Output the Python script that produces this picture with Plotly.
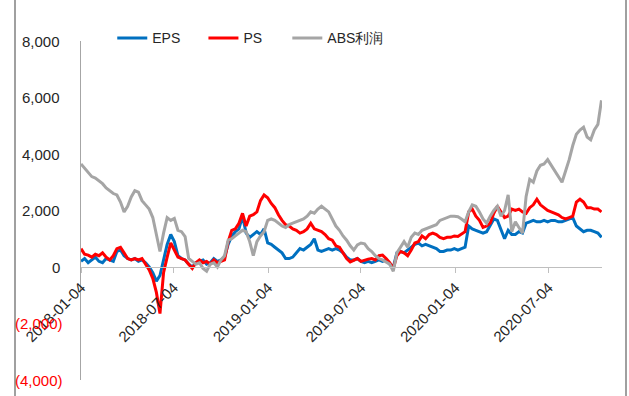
import pandas as pd
import plotly.graph_objects as go

# Weekly observations starting 2018-01-04
dates = pd.date_range("2018-01-04", periods=146, freq="7D")

eps = [
    200, 300, 150, 250, 350, 200, 150, 300, 250, 200,
    550, 600, 400, 300, 250, 300, 200, 250, 150, 0,
    -200, -500, -300, 300, 800, 1150, 900, 400, 300, 250,
    100, 0, 150, 200, 250, 100, 150, 300, 200, 250,
    350, 800, 1100, 1250, 1350, 1800, 1200, 1050, 1150, 1250,
    1150, 1350, 850, 800, 700, 600, 500, 300, 300, 350,
    500, 650, 600, 700, 800, 1000, 600, 550, 600, 650,
    600, 650, 600, 500, 350, 250, 250, 300, 200, 150,
    200, 150, 200, 250, 200, 250, 100, 0, 500, 550,
    500, 600, 700, 800, 850, 750, 800, 750, 700, 650,
    550, 550, 600, 600, 650, 600, 650, 700, 1450, 1350,
    1300, 1250, 1200, 1250, 1500, 1700, 1650, 1300, 1000, 1300,
    1150, 1150, 1250, 1200, 1550, 1600, 1650, 1600, 1600, 1650,
    1600, 1650, 1650, 1600, 1600, 1650, 1700, 1750, 1450, 1350,
    1250, 1300, 1300, 1250, 1200, 1050,
]

ps = [
    650, 450, 420, 350, 450, 400, 500, 350, 250, 400,
    650, 700, 500, 300, 250, 300, 250, 300, 100, -100,
    -400, -900, -1650, -200, 350, 850, 600, 350, 300, 250,
    100, -50, 150, 250, 150, 200, 100, 250, 150, 200,
    250, 900, 1300, 1350, 1550, 1900, 1450, 1800, 1850, 1950,
    2350, 2550, 2450, 2250, 2100, 1850, 1650, 1500, 1450, 1350,
    1300, 1200, 1250, 1350, 1550, 1350, 1300, 1250, 1150, 1000,
    950, 750, 700, 500, 300, 180, 250, 300, 200, 250,
    280, 300, 250, 400, 420, 300, 150, -50, 400, 550,
    500, 400, 600, 850, 900, 1100, 1000, 1150, 1200, 1150,
    1050, 1000, 1050, 1050, 1100, 1080, 1150, 1250, 1950, 2050,
    1800, 1650, 1400, 1450, 1550, 1900, 2150, 1950, 1750, 1800,
    2050, 2000, 2050, 1950, 1900, 2100, 2200, 2400, 2200, 2100,
    2000, 1950, 1900, 1850, 1750, 1700, 1750, 1800, 2300, 2400,
    2300, 2100, 2100, 2050, 2050, 1950,
]

abs_profit = [
    3650, 3500, 3350, 3200, 3150, 3050, 2950, 2800, 2700, 2600,
    2550, 2300, 1950, 2150, 2480, 2700, 2650, 2350, 2200, 2050,
    1750, 1200, 550, 1200, 1750, 1650, 1720, 1300, 1250, 1080,
    300, 200, 100, 150, -50, -150, 100, 150, 0, 250,
    400, 950, 1000, 1100, 1200, 1300, 1250, 900, 400, 900,
    1100, 1250, 1650, 1700, 1650, 1550, 1450, 1400, 1500, 1550,
    1600, 1650, 1700, 1800, 1950, 1900, 2050, 2150, 2050, 1950,
    1700, 1450, 1300, 1100, 950, 750, 600, 780, 850, 820,
    650, 550, 400, 300, 250, 180, 100, -150, 500, 700,
    900, 700, 1050, 1200, 1150, 1300, 1350, 1400, 1450, 1500,
    1650, 1700, 1750, 1800, 1800, 1780, 1700, 1600, 1950, 2200,
    2150, 1950, 1700, 1550, 1800, 2000, 2150, 1800, 2000, 2550,
    1250, 1600, 1400, 1200, 2500, 3100, 3000, 3400, 3600, 3650,
    3800, 3600, 3400, 3200, 3000, 3400, 3800, 4300, 4700, 4850,
    4950, 4600, 4500, 4850, 5050, 5900,
]

series_names = ["EPS", "PS", "ABS利润"]
series_colors = ["#0070C0", "#FF0000", "#A5A5A5"]
legend_ids = ["legend", "legend2", "legend3"]
legend_x = [0.060, 0.235, 0.396]

x_ticks = ["2018-01-04", "2018-07-04", "2019-01-04", "2019-07-04",
           "2020-01-04", "2020-07-04"]
y_ticks = [-4000, -2000, 0, 2000, 4000, 6000, 8000]

FONT = "Liberation Sans, Arial, sans-serif"

fig = go.Figure()
for name, vals, col, lg in zip(series_names, [eps, ps, abs_profit],
                               series_colors, legend_ids):
    fig.add_trace(go.Scatter(x=dates, y=vals, name=name, mode="lines",
                             legend=lg, line=dict(color=col, width=3)))


def fmt(v):
    s = f"{abs(v):,}"
    return f"({s})" if v < 0 else s


# y tick labels, negatives in red parentheses
for v in y_ticks:
    fig.add_annotation(x=0, xref="paper", y=v, yref="y", text=fmt(v),
                       showarrow=False, xanchor="right", yanchor="middle",
                       xshift=-16 if v < 0 else -19,
                       font=dict(family=FONT, size=15,
                                 color="#FF0000" if v < 0 else "#262626"))

# outer frame lines
for xp in [-66 / 521, 545 / 521]:
    fig.add_shape(type="line", xref="paper", yref="paper",
                  x0=xp, x1=xp, y0=-0.06, y1=1.13,
                  line=dict(color="#A0A0A0", width=2))

legend_style = dict(orientation="h", xanchor="left", y=1.008,
                    yanchor="middle", font=dict(size=14),
                    bgcolor="rgba(0,0,0,0)", itemwidth=30)

fig.update_layout(
    width=629, height=396,
    margin=dict(l=81, r=27, t=41, b=16),
    paper_bgcolor="white", plot_bgcolor="white",
    font=dict(family=FONT, size=14, color="#262626"),
    showlegend=True,
    legend=dict(x=legend_x[0], **legend_style),
    legend2=dict(x=legend_x[1], **legend_style),
    legend3=dict(x=legend_x[2], **legend_style),
    xaxis=dict(type="date", range=["2018-01-04", "2020-10-16"],
               tickvals=x_ticks, ticktext=x_ticks, tickangle=-45,
               anchor="free", position=1 / 3,
               showline=True, linecolor="#BFBFBF", linewidth=1,
               ticks="outside", ticklen=5, tickcolor="#BFBFBF",
               showgrid=False, zeroline=False,
               tickfont=dict(family=FONT, size=15, color="#262626")),
    yaxis=dict(range=[-4000, 8000], tickvals=y_ticks, showticklabels=False,
               showline=True, linecolor="#A6A6A6", linewidth=1,
               showgrid=False, zeroline=False, ticks=""),
)

fig.write_html("out.html")
